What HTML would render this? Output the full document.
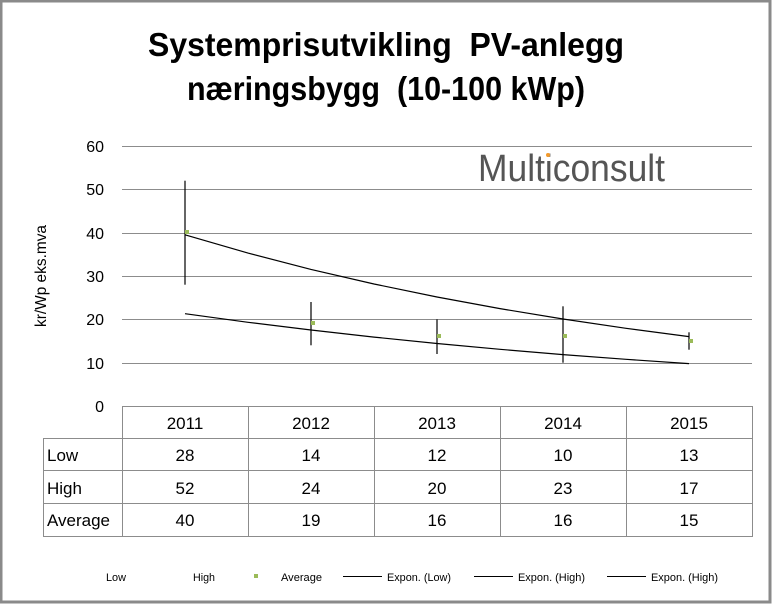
<!DOCTYPE html>
<html><head><meta charset="utf-8"><style>
html,body{margin:0;padding:0;background:#fff}
body{width:772px;height:604px;position:relative;overflow:hidden;font-family:"Liberation Sans",sans-serif}
</style></head><body>
<svg width="772" height="604" viewBox="0 0 772 604" xmlns="http://www.w3.org/2000/svg" font-family="Liberation Sans, sans-serif">
<rect x="1" y="1" width="769" height="601" fill="#fff" stroke="#8a8a8a" stroke-width="3"/>
<g font-weight="bold" font-size="33" text-anchor="middle" fill="#000">
<text x="386" y="56" textLength="476" lengthAdjust="spacingAndGlyphs">Systemprisutvikling&#160;&#160;PV-anlegg</text>
<text x="386" y="100" textLength="398" lengthAdjust="spacingAndGlyphs">næringsbygg&#160;&#160;(10-100 kWp)</text>
</g>
<g stroke="#8c8c8c" stroke-width="1">
<line x1="122" y1="146.5" x2="752" y2="146.5"/>
<line x1="122" y1="189.5" x2="752" y2="189.5"/>
<line x1="122" y1="233.5" x2="752" y2="233.5"/>
<line x1="122" y1="276.5" x2="752" y2="276.5"/>
<line x1="122" y1="319.5" x2="752" y2="319.5"/>
<line x1="122" y1="363.5" x2="752" y2="363.5"/>
</g>
<g font-size="16" text-anchor="end" fill="#000">
<text x="104" y="152">60</text><text x="104" y="195">50</text><text x="104" y="239">40</text>
<text x="104" y="282">30</text><text x="104" y="325">20</text><text x="104" y="369">10</text><text x="104" y="412">0</text>
</g>
<text transform="translate(46,276) rotate(-90)" font-size="16" text-anchor="middle" textLength="102" lengthAdjust="spacingAndGlyphs">kr/Wp eks.mva</text>
<text x="478" y="181" font-size="38" fill="#555" textLength="187" lengthAdjust="spacingAndGlyphs">Multiconsult</text>
<circle cx="548" cy="155" r="2" fill="#f39a2b"/>
<!-- trendlines -->
<polyline points="185,234.8 216.5,253.1 248,269.4 279.5,284 311,297 342.5,308.6 374,319 405.5,328.3 437,336.6" transform="translate(0,0) scale(1,1)" fill="none" stroke="none"/>
<polyline points="185,234.8 248,253.1 311,269.4 374,284 437,297 500,308.6 563,319 626,328.3 689,336.6" fill="none" stroke="#000" stroke-width="1.2"/>
<polyline points="185,313.7 248,322.3 311,330 374,337.1 437,343.5 500,349.3 563,354.6 626,359.3 689,363.6" fill="none" stroke="#000" stroke-width="1.2"/>
<!-- error bars -->
<g stroke="#000" stroke-width="1.2">
<line x1="185" y1="180.7" x2="185" y2="284.7"/>
<line x1="311" y1="302" x2="311" y2="345.3"/>
<line x1="437" y1="319.3" x2="437" y2="354"/>
<line x1="563" y1="306.3" x2="563" y2="362.7"/>
<line x1="689" y1="332.3" x2="689" y2="349.7"/>
</g>
<g fill="#9bbb59">
<rect x="185" y="230" width="4" height="4"/><rect x="311" y="321" width="4" height="4"/>
<rect x="437" y="334" width="4" height="4"/><rect x="563" y="334" width="4" height="4"/>
<rect x="689" y="339" width="4" height="4"/>
</g>
<!-- table -->
<g stroke="#8c8c8c" stroke-width="1" fill="none">
<path d="M122 406.5 H752.5 V536.5 H43.5 V438.5 H752"/>
<line x1="43.5" y1="470.5" x2="752" y2="470.5"/>
<line x1="43.5" y1="503.5" x2="752" y2="503.5"/>
<line x1="122.5" y1="406" x2="122.5" y2="536"/>
<line x1="248.5" y1="406" x2="248.5" y2="536"/>
<line x1="374.5" y1="406" x2="374.5" y2="536"/>
<line x1="500.5" y1="406" x2="500.5" y2="536"/>
<line x1="626.5" y1="406" x2="626.5" y2="536"/>
</g>
<g font-size="17" text-anchor="middle">
<text x="185" y="429">2011</text><text x="311" y="429">2012</text><text x="437" y="429">2013</text><text x="563" y="429">2014</text><text x="689" y="429">2015</text>
<text x="185" y="461">28</text><text x="311" y="461">14</text><text x="437" y="461">12</text><text x="563" y="461">10</text><text x="689" y="461">13</text>
<text x="185" y="494">52</text><text x="311" y="494">24</text><text x="437" y="494">20</text><text x="563" y="494">23</text><text x="689" y="494">17</text>
<text x="185" y="526">40</text><text x="311" y="526">19</text><text x="437" y="526">16</text><text x="563" y="526">16</text><text x="689" y="526">15</text>
</g>
<g font-size="17">
<text x="47" y="461">Low</text><text x="47" y="494">High</text><text x="47" y="526">Average</text>
</g>
<!-- legend -->
<g font-size="11">
<text x="106" y="581" textLength="20" lengthAdjust="spacingAndGlyphs">Low</text>
<text x="193" y="581" textLength="22" lengthAdjust="spacingAndGlyphs">High</text>
<rect x="254" y="574" width="4" height="4" fill="#9bbb59"/>
<text x="281" y="581" textLength="41" lengthAdjust="spacingAndGlyphs">Average</text>
<line x1="343" y1="576.5" x2="382" y2="576.5" stroke="#000"/>
<text x="387" y="581" textLength="64" lengthAdjust="spacingAndGlyphs">Expon. (Low)</text>
<line x1="474" y1="576.5" x2="513" y2="576.5" stroke="#000"/>
<text x="518" y="581" textLength="67" lengthAdjust="spacingAndGlyphs">Expon. (High)</text>
<line x1="607" y1="576.5" x2="646" y2="576.5" stroke="#000"/>
<text x="651" y="581" textLength="67" lengthAdjust="spacingAndGlyphs">Expon. (High)</text>
</g>
</svg>
</body></html>
